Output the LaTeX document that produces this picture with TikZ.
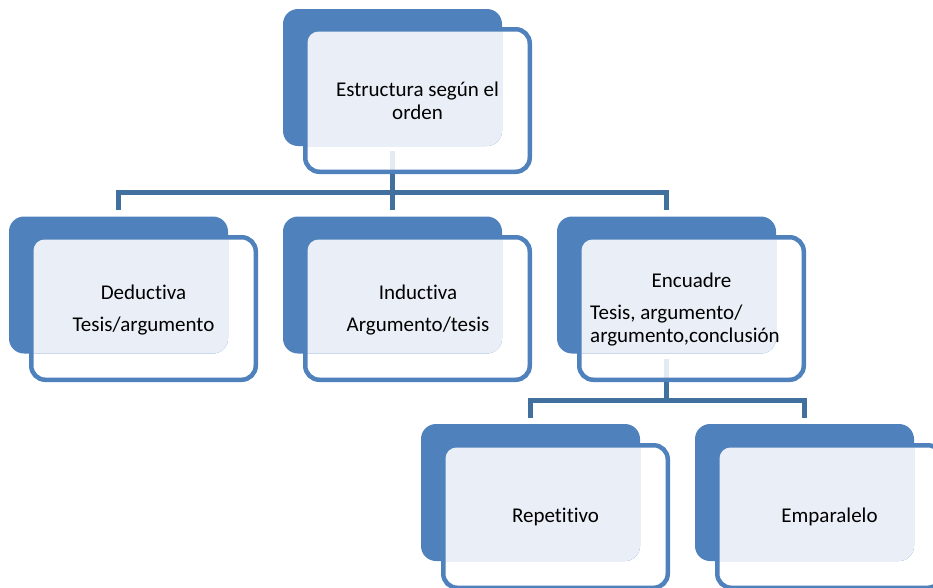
\documentclass[tikz,border=0pt]{standalone}
\usepackage{fontspec}
\setmainfont{Carlito}[Ligatures=NoCommon]
\usetikzlibrary{calc,backgrounds}
\definecolor{backblue}{HTML}{4F81BD}
\definecolor{connblue}{HTML}{41709F}
\definecolor{lightfill}{HTML}{EAEFF7}
\definecolor{borderblue}{HTML}{4F81BD}
\newcommand\mylight[2]{%
  \begin{scope}
    \clip[rounded corners=15pt] (#1.north west) rectangle (#1.south east);
    \fill[lightfill, rounded corners=11pt] ($(#2.north west)+(2.25,2.25)$) rectangle ($(#2.south east)+(-2.25,-2.25)$);
  \end{scope}}
\begin{document}
\begin{tikzpicture}[x=1pt,y=-1pt,
  backbox/.style={rectangle, rounded corners=15pt, fill=backblue, minimum width=219pt, minimum height=137pt, inner sep=0pt, outer sep=0pt},
  frontbox/.style={rectangle, rounded corners=14pt, draw=borderblue, line width=4.5pt, fill=white, fill opacity=0.86, minimum width=224.5pt, minimum height=142.5pt, inner sep=0pt, outer sep=0pt},
  conn/.style={draw=connblue, line width=5pt},
  lbl/.style={font=\fontsize{21}{24}\selectfont, inner sep=0pt, anchor=base, text=black}]
\useasboundingbox (0,0) rectangle (933,587);
\clip (0,0) rectangle (933,587);

% top
\node[frontbox] (tf) at (417.5,100.5) {};
\node[backbox] (t) at (392.5,77.5) {};
\mylight{t}{tf}
% level 1
\node[frontbox] (df) at (143.5,308.5) {};
\node[backbox] (d) at (118.5,285) {};
\mylight{d}{df}
\node[frontbox] (if) at (417.5,308.5) {};
\node[backbox] (i) at (392.5,285) {};
\mylight{i}{if}
\node[frontbox] (ef) at (691.5,308.5) {};
\node[backbox] (e) at (666.5,285) {};
\mylight{e}{ef}
% level 2
\node[frontbox] (rf) at (555.5,516.5) {};
\node[backbox] (r) at (530.5,492.5) {};
\mylight{r}{rf}
\node[frontbox] (pf) at (829.5,516.5) {};
\node[backbox] (p) at (804.5,492.5) {};
\mylight{p}{pf}

% connectors
\coordinate (h1) at ($(t.south)+(0,46)$);
\coordinate (h2) at ($(e.south)+(0,46.5)$);
\begin{pgfonlayer}{background}
\draw[conn] ($(t.south)+(0,5)$) -- ($(i.north)+(0,-7)$);
\draw[conn] ($(d.north)+(0,-7)$) |- (h1) -| ($(e.north)+(0,-7)$);
\draw[conn] ($(e.south)+(0,5)$) -- (h2);
\draw[conn] ($(r.north)+(0,-6)$) |- (h2) -| ($(p.north)+(0,-6)$);
\end{pgfonlayer}

% labels
\node[lbl] (t1) at (417.5,96) {Estructura según el};
\node[lbl] (t2) at (417.5,119) {orden};
\node[lbl] (d1) at (143.5,299) {Deductiva};
\node[lbl] (d2) at (143.5,331) {Tesis/argumento};
\node[lbl] (i1) at (418,299) {Inductiva};
\node[lbl] (i2) at (418,331) {Argumento/tesis};
\node[lbl] (e1) at (691.5,287) {Encuadre};
\node[lbl, anchor=base west] (e2) at (590,319) {Tesis, argumento/};
\node[lbl, anchor=base west] (e3) at (590,342) {argumento,conclusión};
\node[lbl] (r1) at (555.5,522) {Repetitivo};
\node[lbl] (p1) at (829.5,522) {Emparalelo};
\end{tikzpicture}
\end{document}
